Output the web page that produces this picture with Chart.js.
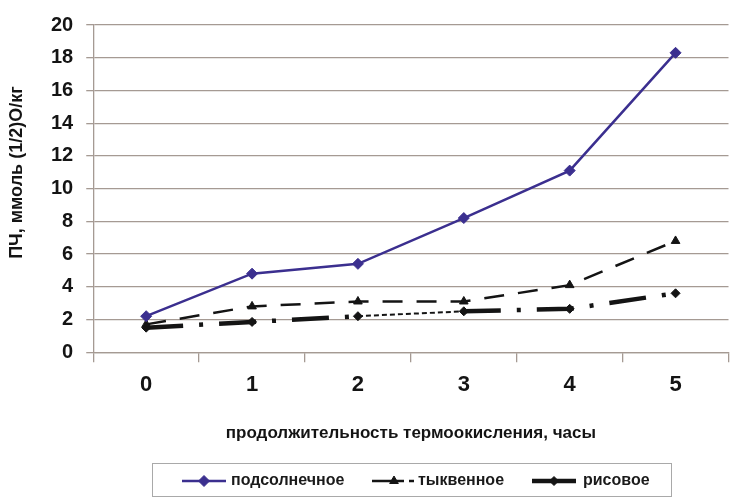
<!DOCTYPE html>
<html lang="ru">
<head>
<meta charset="utf-8">
<title>ПЧ масел при термоокислении</title>
<script src="https://cdn.jsdelivr.net/npm/chart.js@4/dist/chart.umd.min.js"></script>
<style>
  html, body { margin: 0; padding: 0; background: #ffffff; }
  #wrap { position: relative; width: 735px; height: 499px; }
  #chart { position: absolute; left: 0; top: 0; }
  #legend {
    position: absolute; left: 152px; top: 463px; width: 520px; height: 34px;
    border: 1.5px solid #a9a9a9; box-sizing: border-box;
    font-family: "Liberation Sans", Arial, sans-serif; font-weight: bold; font-size: 16px; color: #1a1a1a;
  }
  #legend .sw { position: absolute; top: 10px; }
  #legend .lb { position: absolute; top: 7px; white-space: nowrap; }
</style>
</head>
<body>
<div id="wrap">
  <canvas id="chart" width="735" height="499"></canvas>
  <div id="legend"></div>
</div>
<script>
// Продолжительность термоокисления, часы
const hours = ['0', '1', '2', '3', '4', '5'];

// Перекисное число, ммоль (1/2)О/кг
const sunflower = [2.2, 4.8, 5.4, 8.2, 11.1, 18.3];
const pumpkin   = [1.7, 2.8, 3.1, 3.1, 4.1, 6.8];
const rice      = [1.5, 1.85, 2.2, 2.5, 2.65, 3.6];

const seriesNames = ['подсолнечное', 'тыквенное', 'рисовое'];
const yTitle = 'ПЧ, ммоль (1/2)О/кг';
const xTitle = 'продолжительность термоокисления, часы';

const gridColor = '#a59a93';
const purple = '#3b2f8f';
const ink = '#141414';
const fontFamily = '"Liberation Sans", Arial, sans-serif';

const riceDash = [37, 16, 4, 16];

const datasets = [
  {
    label: seriesNames[0],
    data: sunflower,
    borderColor: purple,
    backgroundColor: purple,
    borderWidth: 2.5,
    pointStyle: 'rectRot',
    pointRadius: 5.5,
    pointBorderWidth: 1,
    tension: 0
  },
  {
    label: seriesNames[1],
    data: pumpkin,
    borderColor: ink,
    backgroundColor: ink,
    borderWidth: 2.5,
    borderDash: [20, 14],
    pointStyle: 'triangle',
    pointRadius: 5,
    pointBorderWidth: 1,
    tension: 0
  },
  {
    label: seriesNames[2],
    data: rice,
    borderColor: ink,
    backgroundColor: ink,
    borderWidth: 4.5,
    borderDash: riceDash,
    borderCapStyle: 'butt',
    pointStyle: 'rectRot',
    pointRadius: 4.5,
    pointBorderWidth: 1,
    tension: 0,
    // отрезок 2–3 ч выведен тонким пунктиром
    segment: {
      borderWidth: ctx => ctx.p0DataIndex === 2 ? 2 : undefined,
      borderDash: ctx => ctx.p0DataIndex === 2 ? [5, 3] : undefined
    }
  }
];

// Подпись оси Y, смещённая вверх относительно центра области графика
const yTitleWidth = 38;
const yTitlePlugin = {
  id: 'yAxisCaption',
  afterDraw(chart) {
    const { ctx, chartArea } = chart;
    const yScale = chart.scales.y;
    ctx.save();
    ctx.translate(yScale.left + 17, (chartArea.top + chartArea.bottom) / 2 - 16);
    ctx.rotate(-Math.PI / 2);
    ctx.font = 'bold 18px ' + fontFamily;
    ctx.fillStyle = ink;
    ctx.textAlign = 'center';
    ctx.textBaseline = 'middle';
    ctx.fillText(yTitle, 0, 0);
    ctx.restore();
  }
};

const chart = new Chart(document.getElementById('chart'), {
  type: 'line',
  data: { labels: hours, datasets },
  plugins: [yTitlePlugin],
  options: {
    responsive: false,
    animation: false,
    devicePixelRatio: 1,
    layout: { padding: { top: 24, right: 2, bottom: 55, left: 0 } },
    plugins: {
      legend: { display: false },
      tooltip: { enabled: false }
    },
    scales: {
      x: {
        offset: true,
        grid: {
          offset: true,
          drawOnChartArea: false,
          drawTicks: true,
          tickLength: 10,
          color: gridColor,
          lineWidth: 1.3
        },
        border: { color: gridColor, width: 1.3 },
        ticks: {
          color: ink,
          padding: 10,
          font: { family: fontFamily, size: 22, weight: 'bold' }
        },
        title: {
          display: true,
          text: xTitle,
          color: ink,
          padding: { top: 15, bottom: 0 },
          font: { family: fontFamily, size: 17, weight: 'bold' }
        }
      },
      y: {
        min: 0,
        max: 20,
        afterFit: scale => { scale.width += yTitleWidth; },
        ticks: {
          stepSize: 2,
          color: ink,
          padding: 13,
          font: { family: fontFamily, size: 20, weight: 'bold' }
        },
        grid: { color: gridColor, tickLength: 7, lineWidth: 1.3 },
        border: { color: gridColor, width: 1.3 }
      }
    }
  }
});

// Легенда: образец линии с маркером и подпись серии
const legendEl = document.getElementById('legend');
const swatchX = [29, 219, 379];
const labelX = [78, 265, 430];
chart.data.datasets.forEach((ds, i) => {
  const c = document.createElement('canvas');
  c.width = 46; c.height = 14;
  c.className = 'sw';
  c.style.left = swatchX[i] + 'px';
  const g = c.getContext('2d');
  g.strokeStyle = ds.borderColor;
  g.fillStyle = ds.backgroundColor;
  g.lineWidth = ds.borderWidth;
  g.setLineDash(i === 1 ? [32, 5, 5, 4] : []);
  g.beginPath(); g.moveTo(0, 7); g.lineTo(i === 1 ? 46 : 44, 7); g.stroke();
  g.setLineDash([]);
  g.lineWidth = 1;
  Chart.helpers.drawPoint(g, { pointStyle: ds.pointStyle, radius: ds.pointRadius, borderWidth: 1, rotation: 0 }, 22, 7);
  legendEl.appendChild(c);
  const t = document.createElement('span');
  t.className = 'lb';
  t.style.left = labelX[i] + 'px';
  t.textContent = ds.label;
  legendEl.appendChild(t);
});
</script>
</body>
</html>
